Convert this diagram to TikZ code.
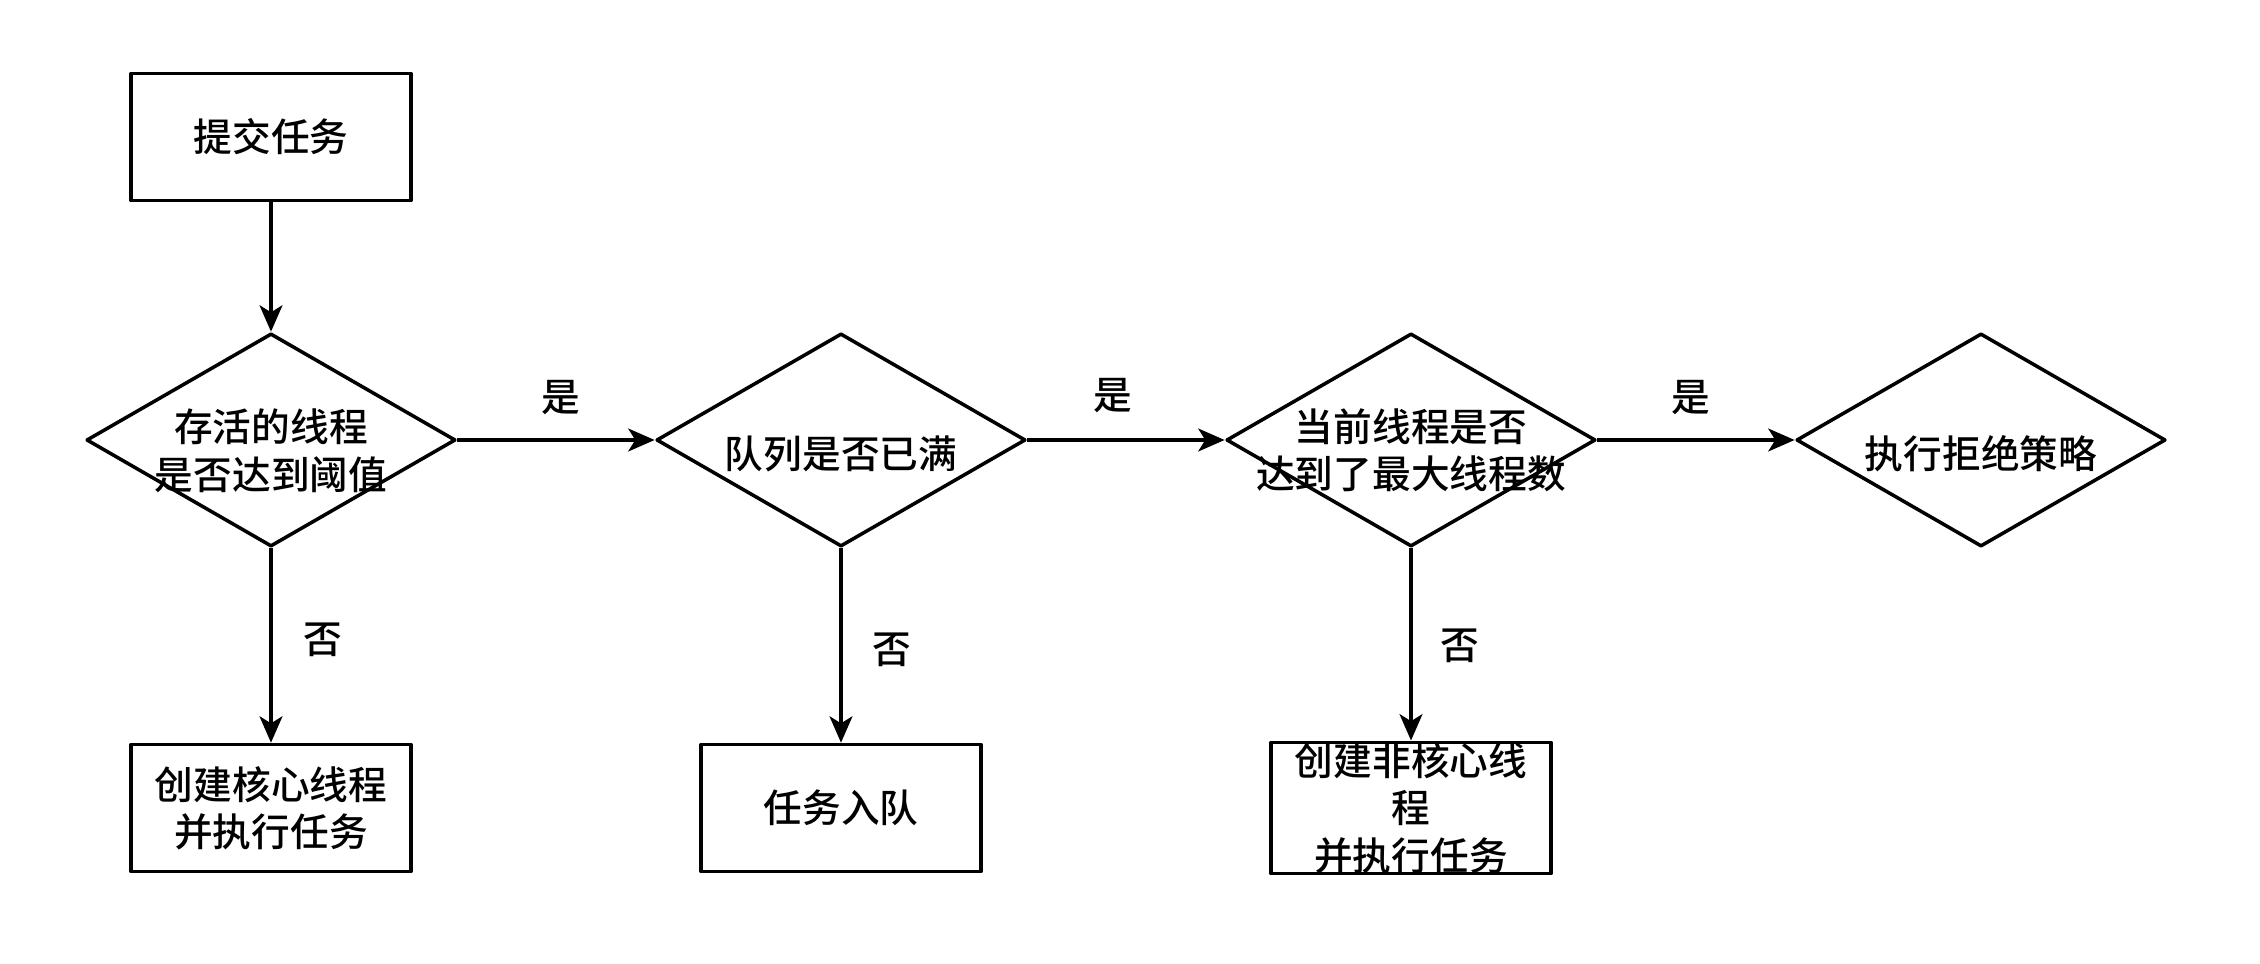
\documentclass[tikz,border=0pt]{standalone}
\usepackage{fontspec}
\newfontfamily\cjk[UprightFont={* Medium}]{Noto Sans CJK SC}
\usetikzlibrary{shapes.geometric,arrows.meta}
\tikzset{
  stepbox/.style={draw,line width=1pt,minimum width=2.8cm,minimum height=1.27cm,inner sep=0pt},
  decision/.style={draw,diamond,line width=1pt,minimum width=3.69cm,minimum height=2.13cm,inner sep=0pt},
  lbl/.style={font=\cjk\fontsize{11}{13.5}\selectfont,align=center,inner sep=0pt},
}
\begin{document}
\begin{tikzpicture}[x=.01cm,y=-.01cm,>={Stealth[length=7.5pt,width=6.5pt,inset=2pt]},line join=round]
 \useasboundingbox (0,0) rectangle (2260,964);
 \node[stepbox,lbl] (submit) at (271,137) {提交任务};
 \node[decision,label={[lbl,yshift=-3pt]center:存活的线程\\是否达到阈值}] (core) at (271,440) {};
 \node[decision,label={[lbl,yshift=-4pt]center:队列是否已满}] (queue) at (841,440) {};
 \node[decision,label={[lbl,yshift=-3pt]center:当前线程是否\\达到了最大线程数}] (maxth) at (1411,440) {};
 \node[decision,label={[lbl,yshift=-4pt]center:执行拒绝策略}] (reject) at (1981,440) {};
 \node[stepbox,lbl] (newcore) at (271,808) {\raisebox{-3pt}{\shortstack{创建核心线程\\并执行任务}}};
 \node[stepbox,lbl] (enqueue) at (841,808) {\raisebox{-3pt}{任务入队}};
 \node[stepbox,lbl] (newnon) at (1411,808) {创建非核心线\\程\\并执行任务};
 \draw[line width=1pt,->] (submit) -- (core);
 \draw[line width=1pt,->] (core) -- (queue);
 \draw[line width=1pt,->] (queue) -- (maxth);
 \draw[line width=1pt,->] (maxth) -- (reject);
 \draw[line width=1pt,->] (core) -- (newcore);
 \draw[line width=1pt,->] (queue) -- (enqueue);
 \draw[line width=1pt,->] (maxth) -- (newnon);
 \node[lbl] (yes1) at (561,398) {是}; \node[lbl] (yes2) at (1113,396) {是};
 \node[lbl] (yes3) at (1691,398) {是};
 \node[lbl] (no1) at (323,640) {否}; \node[lbl] (no2) at (892,650) {否};
 \node[lbl] (no3) at (1460,646) {否};
\end{tikzpicture}
\end{document}
